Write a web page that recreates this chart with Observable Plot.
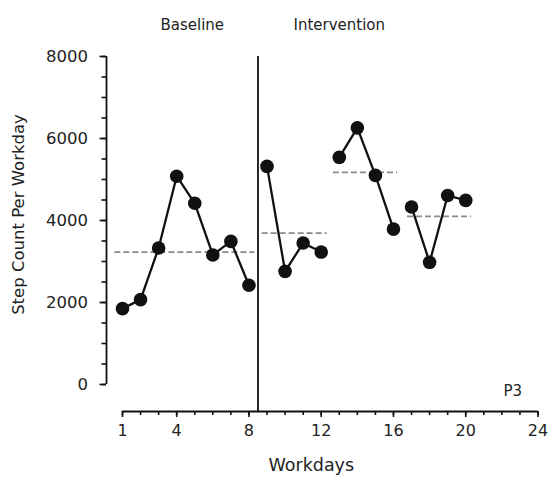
<!DOCTYPE html>
<html>
<head>
<meta charset="utf-8">
<script src="https://cdn.jsdelivr.net/npm/d3@7"></script>
<script src="https://cdn.jsdelivr.net/npm/@observablehq/plot@0.6"></script>
<style>
  html, body { margin: 0; padding: 0; background: #fff; }
  #chart svg { display: block; }
</style>
</head>
<body>
<div id="chart"></div>
<script>
// Daily step counts for participant P3 across baseline and intervention phases
const days = [1, 2, 3, 4, 5, 6, 7, 8, 9, 10, 11, 12, 13, 14, 15, 16, 17, 18, 19, 20];
const steps = [1850, 2070, 3330, 5080, 4420, 3160, 3490, 2420,
               5320, 2760, 3450, 3230,
               5540, 6260, 5100, 3790,
               4330, 2980, 4610, 4490];
const segments = ["A", "A", "A", "A", "A", "A", "A", "A",
                  "B1", "B1", "B1", "B1",
                  "B2", "B2", "B2", "B2",
                  "B3", "B3", "B3", "B3"];

// Horizontal extent (in workdays) of each segment's mean line
const segmentIds = ["A", "B1", "B2", "B3"];
const meanFrom = [0.55, 8.7, 12.65, 16.75];
const meanTo = [8.3, 12.3, 16.2, 20.3];

const phaseChange = 8.5;
const phaseNames = ["Baseline", "Intervention"];
const phaseLabelX = [4.86, 13.0];

const yMajorTicks = [0, 2000, 4000, 6000, 8000];
const xMajorTicks = [1, 4, 8, 12, 16, 20, 24];

const data = days.map((d, i) => ({day: d, steps: steps[i], segment: segments[i]}));
const means = segmentIds.map((id, i) => ({
  segment: id,
  from: meanFrom[i],
  to: meanTo[i],
  mean: d3.mean(data.filter(d => d.segment === id), d => d.steps)
}));
const phases = phaseNames.map((name, i) => ({name, x: phaseLabelX[i]}));

const ink = "#111";
const font = "DejaVu Sans";

const chart = Plot.plot({
  width: 555,
  height: 487,
  marginTop: 56,
  marginBottom: 76,
  marginLeft: 106,
  marginRight: 17.5,
  insetLeft: 16,
  insetBottom: 27,
  style: {fontFamily: font, fontSize: "16px", color: ink, background: "#fff"},
  x: {domain: [1, 24]},
  y: {domain: [0, 8000]},
  marks: [
    // y axis: minor ticks every 500, labelled majors every 2000
    Plot.axisY({ticks: d3.range(0, 8001, 500), tickSize: 4.5, text: null, label: null, strokeWidth: 1.6}),
    Plot.axisY({ticks: yMajorTicks, tickSize: 6.5, tickPadding: 12, tickFormat: d => String(d),
      fontSize: 16.5, fill: "#222", label: null, strokeWidth: 1.6}),
    Plot.ruleX([1], {y1: 0, y2: 8000, dx: -16, stroke: ink, strokeWidth: 1.8}),

    // x axis: a tick at every workday, labels at selected days
    Plot.axisX({ticks: days.concat([21, 22, 23, 24]), tickSize: 4, text: null, label: null, strokeWidth: 1.6}),
    Plot.axisX({ticks: xMajorTicks, tickSize: 6, tickPadding: 7, fontSize: 16, fill: "#222",
      label: null, strokeWidth: 1.6}),
    Plot.ruleY([0], {x1: 1, x2: 24, dy: 27, stroke: ink, strokeWidth: 1.8}),

    // phase change line
    Plot.ruleX([phaseChange], {stroke: ink, strokeWidth: 1.8}),

    // segment means
    Plot.link(means, {x1: "from", x2: "to", y1: "mean", y2: "mean",
      stroke: "#8a8a8a", strokeWidth: 1.8, strokeDasharray: "6,3"}),

    // daily step counts
    Plot.line(data, {x: "day", y: "steps", z: "segment", stroke: ink, strokeWidth: 2.3}),
    Plot.dot(data, {x: "day", y: "steps", r: 6.8, fill: ink, stroke: "none"}),

    // phase labels
    Plot.text(phases, {x: "x", text: "name", frameAnchor: "top", dy: -27,
      lineAnchor: "bottom", fontSize: 15, fill: "#222"}),

    // axis titles and participant label
    Plot.text(["Workdays"], {x: 11.45, frameAnchor: "bottom", dy: 59,
      lineAnchor: "bottom", fontSize: 17.5, fill: "#222"}),
    Plot.text(["Step Count Per Workday"], {y: 4146, frameAnchor: "left", dx: -83,
      rotate: -90, textAnchor: "middle", lineAnchor: "bottom", fontSize: 16.5, fill: "#222"}),
    Plot.text(["P3"], {x: 22.6, frameAnchor: "bottom", dy: -16,
      lineAnchor: "bottom", fontSize: 15, fill: "#222"})
  ]
});

document.getElementById("chart").append(chart);
</script>
</body>
</html>
